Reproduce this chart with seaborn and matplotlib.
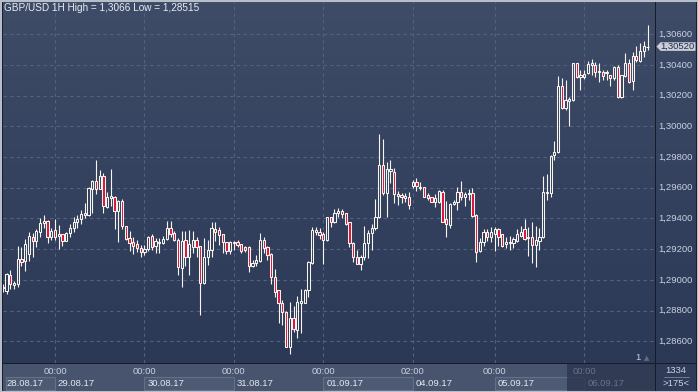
import numpy as np
import pandas as pd
import seaborn as sns
import matplotlib.pyplot as plt
from matplotlib.patches import Rectangle, Polygon
from matplotlib.colors import LinearSegmentedColormap

# -----------------------------------
# Data: GBP/USD 1H candles (28.08.17 - 06.09.17)
# -----------------------------------

opens = [
    1.28947, 1.28930, 1.29032, 1.28967, 1.28973, 1.29136, 1.29125, 1.29169, 1.29278, 1.29255,
    1.29314, 1.29369, 1.29382, 1.29278, 1.29325, 1.29286, 1.29297, 1.29255, 1.29308, 1.29340,
    1.29375, 1.29397, 1.29423, 1.29423, 1.29592, 1.29642, 1.29592, 1.29677, 1.29477, 1.29532,
    1.29542, 1.29449, 1.29514, 1.29351, 1.29271, 1.29247, 1.29234, 1.29208, 1.29182, 1.29201,
    1.29286, 1.29221, 1.29238, 1.29240, 1.29266, 1.29336, 1.29304, 1.29260, 1.29079, 1.29260,
    1.29151, 1.29216, 1.29260, 1.29221, 1.28978, 1.29151, 1.29195, 1.29330, 1.29325, 1.29299,
    1.29245, 1.29190, 1.29242, 1.29245, 1.29234, 1.29216, 1.29216, 1.29093, 1.29110, 1.29125,
    1.29260, 1.29216, 1.29169, 1.29017, 1.28931, 1.28850, 1.28793, 1.28565, 1.28750, 1.28674,
    1.28851, 1.28851, 1.28934, 1.29112, 1.29312, 1.29314, 1.29297, 1.29260, 1.29408, 1.29379,
    1.29438, 1.29449, 1.29434, 1.29375, 1.29242, 1.29147, 1.29104, 1.29147, 1.29242, 1.29304,
    1.29336, 1.29408, 1.29749, 1.29568, 1.29711, 1.29705, 1.29547, 1.29553, 1.29536, 1.29542,
    1.29614, 1.29640, 1.29599, 1.29603, 1.29553, 1.29538, 1.29509, 1.29509, 1.29575, 1.29397,
    1.29358, 1.29493, 1.29506, 1.29575, 1.29538, 1.29560, 1.29568, 1.29423, 1.29190, 1.29245,
    1.29310, 1.29281, 1.29299, 1.29330, 1.29297, 1.29234, 1.29238, 1.29238, 1.29255, 1.29286,
    1.29330, 1.29271, 1.29278, 1.29227, 1.29255, 1.29278, 1.29564, 1.29568, 1.29814, 1.29835,
    1.30265, 1.30118, 1.30167, 1.30172, 1.30411, 1.30320, 1.30324, 1.30346, 1.30411, 1.30400,
    1.30363, 1.30352, 1.30346, 1.30335, 1.30313, 1.30385, 1.30194, 1.30328, 1.30411, 1.30298,
    1.30459, 1.30428, 1.30491, 1.30515,
]

highs = [
    1.28973, 1.29045, 1.29064, 1.28995, 1.29221, 1.29216, 1.29265, 1.29312, 1.29304, 1.29330,
    1.29405, 1.29421, 1.29387, 1.29336, 1.29397, 1.29358, 1.29302, 1.29314, 1.29364, 1.29408,
    1.29423, 1.29455, 1.29499, 1.29607, 1.29651, 1.29781, 1.29716, 1.29695, 1.29575, 1.29721,
    1.29547, 1.29521, 1.29525, 1.29354, 1.29319, 1.29281, 1.29260, 1.29227, 1.29227, 1.29286,
    1.29299, 1.29273, 1.29273, 1.29286, 1.29384, 1.29386, 1.29319, 1.29273, 1.29319, 1.29319,
    1.29325, 1.29319, 1.29281, 1.29224, 1.29271, 1.29260, 1.29375, 1.29375, 1.29347, 1.29302,
    1.29249, 1.29253, 1.29253, 1.29260, 1.29237, 1.29221, 1.29221, 1.29130, 1.29162, 1.29304,
    1.29278, 1.29221, 1.29172, 1.29069, 1.28934, 1.28869, 1.28797, 1.28856, 1.28830, 1.28895,
    1.28939, 1.28939, 1.29123, 1.29347, 1.29343, 1.29336, 1.29314, 1.29412, 1.29412, 1.29460,
    1.29466, 1.29460, 1.29438, 1.29377, 1.29244, 1.29195, 1.29162, 1.29351, 1.29325, 1.29364,
    1.29525, 1.29951, 1.29918, 1.29770, 1.29778, 1.29727, 1.29581, 1.29568, 1.29564, 1.29575,
    1.29651, 1.29662, 1.29640, 1.29605, 1.29564, 1.29542, 1.29560, 1.29586, 1.29586, 1.29514,
    1.29503, 1.29521, 1.29607, 1.29644, 1.29571, 1.29590, 1.29597, 1.29426, 1.29271, 1.29330,
    1.29330, 1.29347, 1.29347, 1.29336, 1.29299, 1.29281, 1.29286, 1.29281, 1.29330, 1.29351,
    1.29397, 1.29347, 1.29379, 1.29351, 1.29336, 1.29677, 1.29690, 1.29814, 1.29905, 1.30328,
    1.30313, 1.30302, 1.30192, 1.30415, 1.30415, 1.30367, 1.30367, 1.30428, 1.30437, 1.30422,
    1.30411, 1.30367, 1.30367, 1.30338, 1.30394, 1.30400, 1.30338, 1.30476, 1.30437, 1.30487,
    1.30524, 1.30545, 1.30558, 1.30660,
]

lows = [
    1.28923, 1.28908, 1.28939, 1.28939, 1.28956, 1.29091, 1.29058, 1.29125, 1.29151, 1.29212,
    1.29281, 1.29336, 1.29242, 1.29260, 1.29260, 1.29199, 1.29221, 1.29253, 1.29281, 1.29314,
    1.29336, 1.29364, 1.29401, 1.29416, 1.29434, 1.29560, 1.29589, 1.29438, 1.29466, 1.29481,
    1.29330, 1.29249, 1.29330, 1.29260, 1.29190, 1.29169, 1.29182, 1.29151, 1.29162, 1.29188,
    1.29195, 1.29175, 1.29175, 1.29234, 1.29260, 1.29281, 1.29253, 1.29032, 1.28956, 1.29091,
    1.29032, 1.29173, 1.29151, 1.28771, 1.28973, 1.29097, 1.29151, 1.29253, 1.29227, 1.29177,
    1.29169, 1.29169, 1.29195, 1.29216, 1.29173, 1.29184, 1.29051, 1.29082, 1.29091, 1.29119,
    1.29175, 1.29130, 1.28973, 1.28889, 1.28721, 1.28706, 1.28560, 1.28515, 1.28661, 1.28621,
    1.28652, 1.28848, 1.28891, 1.29104, 1.29293, 1.29265, 1.29104, 1.29255, 1.29347, 1.29369,
    1.29408, 1.29401, 1.29358, 1.29216, 1.29119, 1.29101, 1.29064, 1.29130, 1.29141, 1.29195,
    1.29325, 1.29401, 1.29553, 1.29410, 1.29628, 1.29503, 1.29488, 1.29499, 1.29509, 1.29460,
    1.29597, 1.29581, 1.29586, 1.29538, 1.29521, 1.29508, 1.29477, 1.29499, 1.29374, 1.29281,
    1.29338, 1.29488, 1.29455, 1.29521, 1.29481, 1.29521, 1.29412, 1.29119, 1.29184, 1.29221,
    1.29255, 1.29249, 1.29190, 1.29223, 1.29212, 1.29206, 1.29195, 1.29206, 1.29249, 1.29279,
    1.29260, 1.29156, 1.29108, 1.29086, 1.29195, 1.29273, 1.29521, 1.29540, 1.29781, 1.29829,
    1.30111, 1.30107, 1.30003, 1.30167, 1.30313, 1.30237, 1.30307, 1.30341, 1.30335, 1.30324,
    1.30291, 1.30302, 1.30302, 1.30265, 1.30302, 1.30187, 1.30183, 1.30324, 1.30281, 1.30237,
    1.30422, 1.30422, 1.30454, 1.30498,
]

closes = [
    1.28954, 1.29036, 1.28973, 1.28982, 1.29136, 1.29119, 1.29234, 1.29286, 1.29255, 1.29321,
    1.29373, 1.29384, 1.29278, 1.29321, 1.29281, 1.29297, 1.29255, 1.29304, 1.29340, 1.29377,
    1.29397, 1.29429, 1.29434, 1.29597, 1.29646, 1.29590, 1.29677, 1.29481, 1.29542, 1.29547,
    1.29449, 1.29514, 1.29351, 1.29265, 1.29242, 1.29221, 1.29208, 1.29182, 1.29201, 1.29279,
    1.29214, 1.29253, 1.29249, 1.29266, 1.29338, 1.29297, 1.29260, 1.29086, 1.29253, 1.29151,
    1.29234, 1.29260, 1.29216, 1.28978, 1.29147, 1.29195, 1.29336, 1.29314, 1.29293, 1.29245,
    1.29190, 1.29249, 1.29249, 1.29227, 1.29190, 1.29195, 1.29093, 1.29108, 1.29130, 1.29260,
    1.29206, 1.29162, 1.29017, 1.28924, 1.28848, 1.28794, 1.28565, 1.28750, 1.28678, 1.28859,
    1.28864, 1.28934, 1.29119, 1.29325, 1.29322, 1.29293, 1.29260, 1.29408, 1.29379, 1.29438,
    1.29449, 1.29429, 1.29364, 1.29242, 1.29147, 1.29104, 1.29147, 1.29242, 1.29304, 1.29336,
    1.29408, 1.29749, 1.29568, 1.29721, 1.29721, 1.29560, 1.29560, 1.29542, 1.29547, 1.29488,
    1.29640, 1.29612, 1.29607, 1.29542, 1.29532, 1.29509, 1.29532, 1.29579, 1.29379, 1.29362,
    1.29493, 1.29509, 1.29575, 1.29538, 1.29560, 1.29568, 1.29418, 1.29184, 1.29245, 1.29310,
    1.29278, 1.29314, 1.29330, 1.29281, 1.29223, 1.29245, 1.29245, 1.29265, 1.29299, 1.29312,
    1.29265, 1.29278, 1.29227, 1.29260, 1.29281, 1.29575, 1.29575, 1.29807, 1.29835, 1.30263,
    1.30118, 1.30172, 1.30177, 1.30411, 1.30320, 1.30335, 1.30341, 1.30407, 1.30400, 1.30356,
    1.30352, 1.30330, 1.30356, 1.30313, 1.30389, 1.30194, 1.30335, 1.30411, 1.30291, 1.30459,
    1.30433, 1.30491, 1.30524, 1.30520,
]

price_ticks = [1.286, 1.288, 1.290, 1.292, 1.294, 1.296, 1.298, 1.300, 1.302, 1.304, 1.306]

grid_bars = [14, 38, 62, 86, 110, 132, 156]
time_labels = ["00:00", "00:00", "00:00", "00:00", "02:00", "00:00", "00:00"]

day_starts = [0, 14, 38, 62, 86, 110, 132, 156]
day_labels = ["28.08.17", "29.08.17", "30.08.17", "31.08.17",
              "01.09.17", "04.09.17", "05.09.17", "06.09.17"]

last_price = 1.30520
title = "GBP/USD 1H High = 1,3066 Low = 1,28515"

# -----------------------------------
# Style
# -----------------------------------

sns.set_theme(style="dark")
plt.rcParams['font.family'] = ['Liberation Sans', 'DejaVu Sans']

W, H = 698, 392
fig = plt.figure(figsize=(W / 100, H / 100), dpi=100)
fig.patch.set_facecolor('#151b29')

WHITE = '#f8f5ef'
RED = '#dc143c'
GRID = '#53627f'
LABEL = '#c9d1e2'
bg_cmap = LinearSegmentedColormap.from_list('bg', ['#2b3856', '#3f4c68'])


def px_axes(x0, y0, x1, y1):
    a = fig.add_axes([x0 / W, 1 - y1 / H, (x1 - x0) / W, (y1 - y0) / H])
    a.set_axis_off()
    return a


def paint(a, extent):
    grad = np.linspace(0, 1, 256).reshape(-1, 1)
    a.imshow(grad, origin='lower', extent=extent, aspect='auto',
             cmap=bg_cmap, zorder=0)


ylo, yhi = 1.284585, 1.308104
xlo, xhi = 0.05, 175.0

# -----------------------------------
# Main candle panel
# -----------------------------------

ax = px_axes(3, 2, 655, 363)
paint(ax, [xlo, xhi, ylo, yhi])

for p in price_ticks:
    ax.axhline(p, color=GRID, lw=0.8, ls=(0, (3, 3)), zorder=1)
for b in grid_bars:
    ax.axvline(b, color=GRID, lw=0.8, ls=(0, (3, 3)), zorder=1)

df = pd.DataFrame({"open": opens, "high": highs, "low": lows, "close": closes})
df["bar"] = np.arange(len(df))
df["top"] = df[["open", "close"]].max(axis=1)
df["bottom"] = df[["open", "close"]].min(axis=1)
df["body"] = (df["top"] - df["bottom"]).clip(lower=0.00005)
df["up"] = df["close"] >= df["open"]

ax.vlines(df["bar"], df["top"], df["high"], color=WHITE, lw=0.8, zorder=2)
ax.vlines(df["bar"], df["low"], df["bottom"], color=WHITE, lw=0.8, zorder=2)

up = df[df["up"]]
dn = df[~df["up"]]
ax.bar(up["bar"], up["body"], bottom=up["bottom"], width=0.6,
       color='none', edgecolor=WHITE, linewidth=0.75, zorder=3)
ax.bar(dn["bar"], dn["body"], bottom=dn["bottom"], width=0.6,
       color=RED, edgecolor=WHITE, linewidth=0.75, zorder=3)

ax.set_xlim(xlo, xhi)
ax.set_ylim(ylo, yhi)

fig.text(4 / W, 1 - 8 / H, title, fontsize=7.2, color='#e8ecf4', va='center')
fig.text(638 / W, 1 - 358 / H, "1", fontsize=6.8, color=LABEL, va='center', ha='center')
fig.text(647 / W, 1 - 358 / H, "\u25B2", fontsize=5, color='#5f6c88',
         va='center', ha='center', family=['DejaVu Sans'])

# -----------------------------------
# Right price scale
# -----------------------------------

ax_r = px_axes(656, 2, 696, 363)
paint(ax_r, [0, 40, ylo, yhi])
ax_r.set_xlim(0, 40)
ax_r.set_ylim(ylo, yhi)

for p in price_ticks:
    ax_r.text(2, p, f"{p:.5f}".replace('.', ','), fontsize=6.8,
              color=LABEL, va='center', ha='left')

h = 0.00028
marker = Polygon([(0.5, last_price), (4.5, last_price + h), (39.5, last_price + h),
                  (39.5, last_price - h), (4.5, last_price - h)],
                 closed=True, facecolor='#c9ced8', edgecolor='none', zorder=3)
ax_r.add_patch(marker)
ax_r.text(4.5, last_price, f"{last_price:.5f}".replace('.', ','), fontsize=6.8,
          color='#1f2a44', va='center', ha='left', zorder=4)

# -----------------------------------
# Bottom time scale
# -----------------------------------

ax_b = px_axes(3, 364, 655, 391)
ax_b.set_xlim(xlo, xhi)
ax_b.set_ylim(391, 364)
ax_b.add_patch(Rectangle((xlo, 364), xhi - xlo, 27, facecolor='#48546d',
                         edgecolor='none', zorder=0))

bounds = day_starts[1:] + [151.4]
for k, (s, e) in enumerate(zip(day_starts, bounds)):
    if k % 2 == 0:
        ax_b.add_patch(Rectangle((max(s, 0.8), 377), e - max(s, 0.8), 13,
                                 facecolor='#4d5a74', edgecolor='#64708a',
                                 lw=0.8, zorder=1))

ax_b.add_patch(Rectangle((151.4, 364), xhi - 151.4, 27, facecolor='#2e3850',
                         edgecolor='none', alpha=0.85, zorder=2))

for b, t in zip(grid_bars, time_labels):
    c = '#66728c' if b > 151.4 else LABEL
    ax_b.text(b, 371, t, fontsize=6.8, color=c, ha='center', va='center', zorder=3)

for s, d in zip(day_starts, day_labels):
    c = '#66728c' if s > 151.4 else '#e4e8f0'
    ax_b.text(max(s, 0.1) + 0.8, 383.5, d, fontsize=6.8, color=c,
              ha='left', va='center', zorder=3)

# -----------------------------------
# Corner box
# -----------------------------------

ax_c = px_axes(656, 364, 696, 391)
ax_c.set_xlim(656, 696)
ax_c.set_ylim(391, 364)
ax_c.add_patch(Rectangle((656, 364), 40, 27, facecolor='#2f3b57', edgecolor='none'))
ax_c.text(676, 370.5, "1334", fontsize=6.8, color=LABEL, ha='center', va='center')
ax_c.plot([664, 689], [376.5, 376.5], color='#7a86a0', lw=0.6)
ax_c.text(676, 383.5, ">175<", fontsize=6.8, color=LABEL, ha='center', va='center')

fig.add_artist(Rectangle((0, 0), 1, 1, transform=fig.transFigure, fill=False,
                         edgecolor='#b8bec9', lw=2.2))

plt.savefig("out.png", dpi=100, facecolor=fig.get_facecolor())
